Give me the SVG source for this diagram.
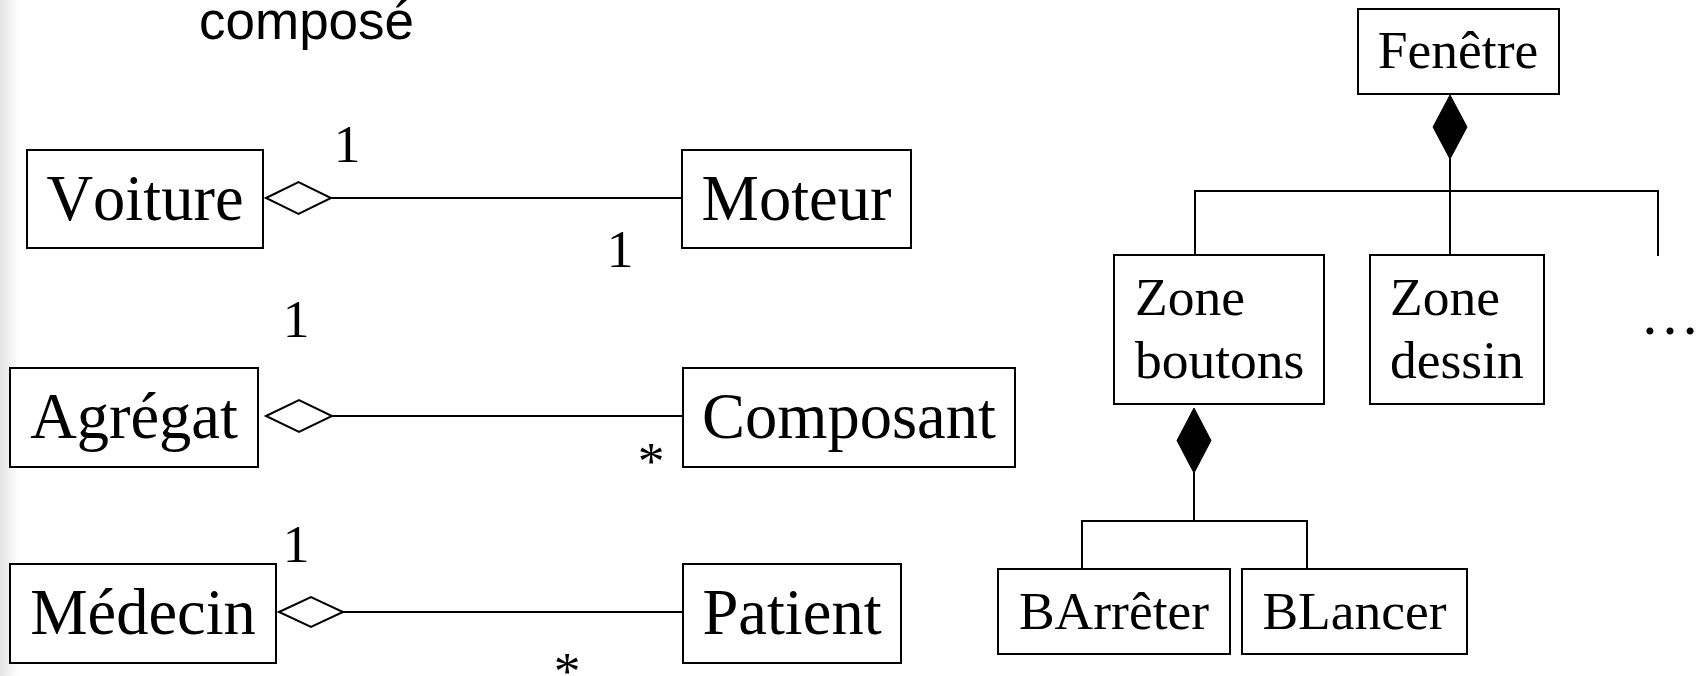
<svg xmlns="http://www.w3.org/2000/svg" width="1701" height="676" viewBox="0 0 1701 676">
<defs>
<linearGradient id="edge" x1="0" y1="0" x2="1" y2="0">
<stop offset="0" stop-color="#e4e4e4"/>
<stop offset="1" stop-color="#ffffff"/>
</linearGradient>
</defs>
<style>
.box{fill:#fff;stroke:#000;stroke-width:2}
.ln{fill:none;stroke:#000;stroke-width:2}
.hd{fill:#fff;stroke:#000;stroke-width:2}
.fd{fill:#000;stroke:#000;stroke-width:1}
text{font-kerning:none}
.big{font-family:"Liberation Serif","Times New Roman",serif;font-size:64.5px;fill:#000}
.mid{font-family:"Liberation Serif","Times New Roman",serif;font-size:53.5px;fill:#000}
.c{text-anchor:middle}
.title{font-family:"Liberation Sans",Arial,sans-serif;font-size:53px;fill:#000}
</style>
<rect x="0" y="0" width="1701" height="676" fill="#fff"/>
<rect x="0" y="0" width="18" height="676" fill="url(#edge)"/>
<text class="title" x="199" y="39">composé</text>

<g id="connectors">
<line class="ln" x1="331" y1="198" x2="683" y2="198"/>
<line class="ln" x1="332" y1="416" x2="684" y2="416"/>
<line class="ln" x1="343" y1="612" x2="684" y2="612"/>
<polygon class="hd" points="266,198 298.5,182 331,198 298.5,214"/>
<polygon class="hd" points="266,416 299,400 332,416 299,432"/>
<polygon class="hd" points="279,612 311,597 343,612 311,627"/>
<polyline class="ln" points="1195,255 1195,191 1658,191 1658,256"/>
<line class="ln" x1="1450" y1="158" x2="1450" y2="255"/>
<polygon class="fd" points="1450,95 1467,127 1450,159 1433,127"/>
<polyline class="ln" points="1082,569 1082,521 1307,521 1307,569"/>
<line class="ln" x1="1194" y1="472" x2="1194" y2="521"/>
<polygon class="fd" points="1194,408 1211,440.5 1194,473 1177,440.5"/>
<text class="mid c" x="347" y="162">1</text>
<text class="mid c" x="620" y="267">1</text>
<text class="mid c" x="296" y="337">1</text>
<text class="mid c" x="651" y="479">*</text>
<text class="mid c" x="296" y="562">1</text>
<text class="mid c" x="567" y="689">*</text>
</g>

<g id="voiture"><rect class="box" x="27" y="150" width="236" height="98"/><text class="big c" x="145" y="220">Voiture</text></g>
<g id="moteur"><rect class="box" x="682" y="150" width="229" height="98"/><text class="big c" x="796.5" y="220">Moteur</text></g>
<g id="agregat"><rect class="box" x="10" y="368" width="248" height="99"/><text class="big c" x="134" y="438">Agrégat</text></g>
<g id="composant"><rect class="box" x="683" y="368" width="332" height="99"/><text class="big c" x="849" y="438">Composant</text></g>
<g id="medecin"><rect class="box" x="10" y="564" width="266" height="99"/><text class="big c" x="143" y="634">Médecin</text></g>
<g id="patient"><rect class="box" x="683" y="564" width="218" height="99"/><text class="big c" x="792" y="634">Patient</text></g>

<g id="fenetre"><rect class="box" x="1358" y="9" width="201" height="85"/><text class="mid c" x="1458" y="68">Fenêtre</text></g>
<g id="zone-boutons"><rect class="box" x="1114" y="255" width="210" height="149"/><text class="mid" x="1135" y="315">Zone</text><text class="mid" x="1135" y="378">boutons</text></g>
<g id="zone-dessin"><rect class="box" x="1370" y="255" width="174" height="149"/><text class="mid" x="1390" y="315">Zone</text><text class="mid" x="1390" y="378">dessin</text></g>
<g id="etc"><text class="mid" x="1640" y="334" style="font-size:60px">…</text></g>
<g id="barreter"><rect class="box" x="998" y="569" width="232" height="85"/><text class="mid c" x="1114" y="629">BArrêter</text></g>
<g id="blancer"><rect class="box" x="1242" y="569" width="225" height="85"/><text class="mid c" x="1354.5" y="629">BLancer</text></g>
</svg>
